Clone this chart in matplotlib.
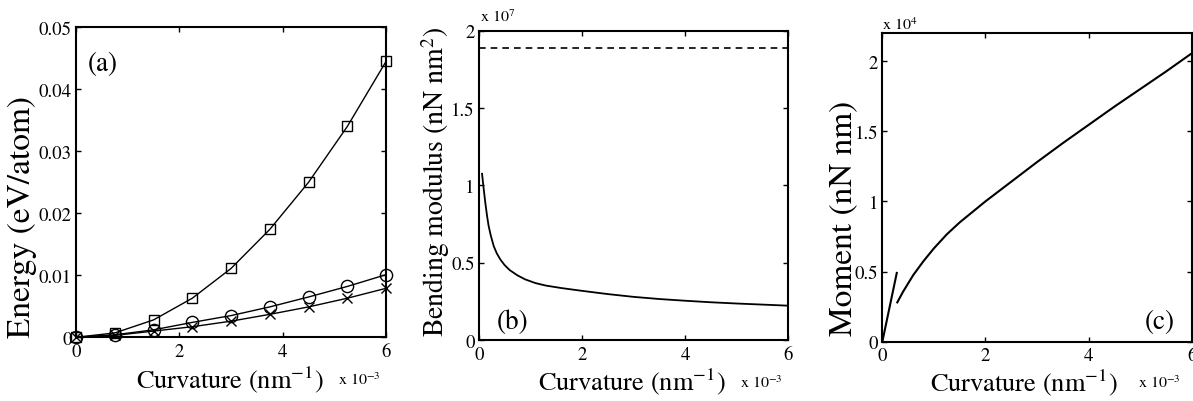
import matplotlib
matplotlib.use('Agg')
import matplotlib.pyplot as plt

# ---------------- data ----------------
# panel (a): energy vs curvature
kappa_a = [0.0, 0.00075, 0.0015, 0.00225, 0.003, 0.00375, 0.0045, 0.00525, 0.006]
energy_square = [0.0, 0.0007, 0.0028, 0.0063, 0.0111, 0.0174, 0.0250, 0.0340, 0.0445]
energy_circle = [0.0, 0.0004, 0.0012, 0.0024, 0.0035, 0.0049, 0.0065, 0.0082, 0.0101]
energy_cross = [0.0, 0.0003, 0.0010, 0.0017, 0.0026, 0.0037, 0.0049, 0.0063, 0.0079]

# panel (b): bending modulus vs curvature
kappa_b = [0.000064, 0.00008, 0.0001, 0.00013, 0.00016, 0.00019, 0.00023, 0.00029,
           0.00035, 0.00042, 0.0005, 0.0006, 0.00075, 0.0009, 0.0011, 0.0013, 0.0016,
           0.002, 0.0025, 0.003, 0.0035, 0.004, 0.0045, 0.005, 0.0055, 0.006]
modulus_b = [1.075e7, 1.025e7, 0.965e7, 0.88e7, 0.805e7, 0.74e7, 0.68e7, 0.607e7,
             0.56e7, 0.52e7, 0.485e7, 0.452e7, 0.418e7, 0.392e7, 0.368e7, 0.352e7, 0.336e7,
             0.318e7, 0.297e7, 0.279e7, 0.265e7, 0.254e7, 0.244e7, 0.236e7, 0.229e7, 0.222e7]
kappa_ref = [0.0, 0.006]
modulus_ref = [1.885e7, 1.885e7]

# panel (c): moment vs curvature
kappa_c_lin = [0.0, 0.00028]
moment_c_lin = [0.0, 0.49e4]
kappa_c = [0.00029, 0.0004, 0.0006, 0.0008, 0.001, 0.00125, 0.0015, 0.002, 0.0025,
           0.003, 0.0035, 0.004, 0.0045, 0.005, 0.0055, 0.006]
moment_c = [0.28e4, 0.355e4, 0.475e4, 0.575e4, 0.665e4, 0.765e4, 0.85e4, 1.0e4, 1.14e4,
            1.28e4, 1.415e4, 1.545e4, 1.675e4, 1.80e4, 1.925e4, 2.055e4]

# ticks
x_ticks = [0.0, 0.002, 0.004, 0.006]
x_tick_labels = ['0', '2', '4', '6']
ya_ticks = [0.0, 0.01, 0.02, 0.03, 0.04, 0.05]
ya_tick_labels = ['0', '0.01', '0.02', '0.03', '0.04', '0.05']
yb_ticks = [0.0, 0.5e7, 1.0e7, 1.5e7, 2.0e7]
yb_tick_labels = ['0', '0.5', '1', '1.5', '2']
yc_ticks = [0.0, 0.5e4, 1.0e4, 1.5e4, 2.0e4]
yc_tick_labels = ['0', '0.5', '1', '1.5', '2']

# ---------------- style ----------------
plt.rcParams.update({
    'font.family': 'STIXGeneral',
    'mathtext.fontset': 'stix',
})

fig = plt.figure(figsize=(11.93, 4.02), dpi=100)
axa = fig.add_axes([0.0637, 0.1585, 0.2599, 0.7711])
axb = fig.add_axes([0.4013, 0.1517, 0.2595, 0.7695])
axc = fig.add_axes([0.7396, 0.1476, 0.2593, 0.7678])

xlabel = r'Curvature (nm$^{-1}$)'


def style(ax):
    for s in ax.spines.values():
        s.set_linewidth(1.5)
    ax.tick_params(direction='in', length=3.5, width=1.0, top=True, right=True,
                   labelsize=13.5, color='black')
    ax.tick_params(axis='x', pad=4)
    ax.tick_params(axis='y', pad=3)
    ax.set_xlim(0, 0.006)
    ax.set_xticks(x_ticks, x_tick_labels)


# ---- (a) ----
style(axa)
kw = dict(color='black', lw=1.0, mfc='none', mec='black', mew=1.0, clip_on=False, zorder=3)
axa.plot(kappa_a, energy_square, marker='s', ms=7.5, **kw)
axa.plot(kappa_a, energy_circle, marker='o', ms=8.8, **kw)
axa.plot(kappa_a, energy_cross, marker='x', ms=6.5, **kw)
axa.set_ylim(0, 0.05)
axa.set_yticks(ya_ticks, ya_tick_labels)
axa.set_xlabel(xlabel, fontsize=19, va='baseline')
axa.xaxis.set_label_coords(0.497, -0.160)
axa.set_ylabel('Energy (eV/atom)', fontsize=24, va='center')
axa.yaxis.set_label_coords(-0.174, 0.39)
axa.text(0.039, 0.882, '(a)', transform=axa.transAxes, fontsize=19.5, ha='left', va='center')
axa.text(0.845, -0.151, r'x 10$^{-3}$', transform=axa.transAxes, fontsize=11.5, ha='left', va='baseline')

# ---- (b) ----
style(axb)
axb.plot(kappa_b, modulus_b, color='black', lw=1.3)
axb.plot(kappa_ref, modulus_ref, color='black', lw=1.2, ls=(0, (4, 3)))
axb.set_ylim(0, 2e7)
axb.set_yticks(yb_ticks, yb_tick_labels)
axb.set_xlabel(xlabel, fontsize=19, va='baseline')
axb.xaxis.set_label_coords(0.494, -0.158)
axb.set_ylabel(r'Bending modulus (nN nm$^2$)', fontsize=20, va='center')
axb.yaxis.set_label_coords(-0.138, 0.515)
axb.text(0.059, 0.06, '(b)', transform=axb.transAxes, fontsize=19.5, ha='left', va='center')
axb.text(0.844, -0.152, r'x 10$^{-3}$', transform=axb.transAxes, fontsize=11.5, ha='left', va='baseline')
axb.text(0.004, 1.031, r'x 10$^{7}$', transform=axb.transAxes, fontsize=11.5, ha='left', va='baseline')

# ---- (c) ----
style(axc)
axc.plot(kappa_c_lin, moment_c_lin, color='black', lw=1.5)
axc.plot(kappa_c, moment_c, color='black', lw=1.5)
axc.set_ylim(0, 2.2e4)
axc.set_yticks(yc_ticks, yc_tick_labels)
axc.set_xlabel(xlabel, fontsize=19, va='baseline')
axc.xaxis.set_label_coords(0.458, -0.159)
axc.set_ylabel('Moment (nN nm)', fontsize=24, va='center')
axc.yaxis.set_label_coords(-0.124, 0.404)
axc.text(0.946, 0.064, '(c)', transform=axc.transAxes, fontsize=19.5, ha='right', va='center')
axc.text(0.827, -0.148, r'x 10$^{-3}$', transform=axc.transAxes, fontsize=11.5, ha='left', va='baseline')
axc.text(0.0, 1.013, r'x 10$^{4}$', transform=axc.transAxes, fontsize=11.5, ha='left', va='baseline')

fig.savefig('out.png', dpi=100)
